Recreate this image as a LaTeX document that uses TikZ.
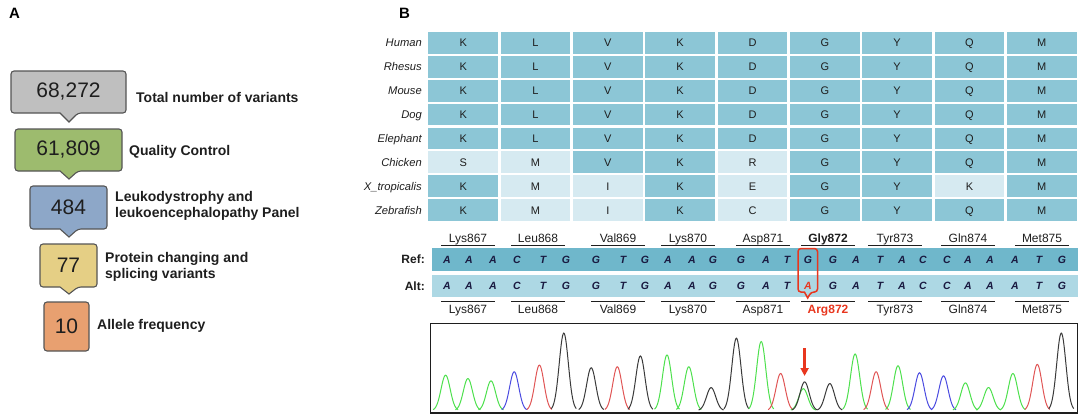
\documentclass[tikz,border=0pt]{standalone}
\usepackage{fontspec}
\setmainfont{Liberation Sans}
\usetikzlibrary{arrows.meta}
\definecolor{cgray}{HTML}{BFBFBF}
\definecolor{cgreen}{HTML}{9DBB6E}
\definecolor{cblue}{HTML}{8DA7C8}
\definecolor{cyellow}{HTML}{E5CF85}
\definecolor{corange}{HTML}{E8A070}
\definecolor{cborder}{HTML}{555555}
\definecolor{dcell}{HTML}{8CC6D6}
\definecolor{lcell}{HTML}{D6EAF1}
\definecolor{refbar}{HTML}{6FB7CB}
\definecolor{altbar}{HTML}{ADD8E4}
\definecolor{mred}{HTML}{E8361E}
\definecolor{pA}{HTML}{4DE04D}
\definecolor{pC}{HTML}{4B4BE0}
\definecolor{pG}{HTML}{3A3A3A}
\definecolor{pT}{HTML}{E05555}
\definecolor{txt}{HTML}{1E1E1E}
\tikzset{
  callout/.style={draw=cborder, line width=1.1pt, rounded corners=3pt},
  bignum/.style={font=\fontsize{21}{24}\selectfont, text=txt, inner sep=0pt},
  steplabel/.style={font=\fontsize{14}{16}\selectfont\bfseries, text=txt, anchor=west, align=left, inner sep=0pt},
  species/.style={font=\fontsize{11.2}{13}\selectfont\itshape, text=txt, anchor=base east, inner sep=0pt},
  aa/.style={font=\fontsize{11}{13}\selectfont, text=txt, inner sep=0pt, anchor=base},
  codon/.style={font=\fontsize{12}{14}\selectfont, text=txt, inner sep=0pt, anchor=base},
  base/.style={font=\fontsize{10.5}{12}\selectfont\bfseries\itshape, text=txt!85!blue, inner sep=0pt},
  panel/.style={font=\fontsize{15}{17}\selectfont\bfseries, text=black, inner sep=0pt},
  codonline/.style={draw=txt, line width=1.4pt},
}
\newcommand\trow[3]{%
  \node[species] (sp#1) at (422,{31+23.875*(#1-0.5)+4}) {#2};
  \foreach \ltr/\sh [count=\c] in {#3} {
    \fill[\sh] ({427+72.33*(\c-1)+1.2},{31+23.875*(#1-1)+1.1}) rectangle ({427+72.33*\c-1.2},{31+23.875*#1-1.1});
    \node[aa] (cell-#1-\c) at ({427+72.33*(\c-0.5)},{31+23.875*(#1-0.5)+4}) {\ltr};
  }
}
\begin{document}
\begin{tikzpicture}[x=1pt,y=-1pt]
\useasboundingbox (0,0) rectangle (1084,418);
% ---------------- Panel A
\node[panel, anchor=north west] (labA) at (9,8) {A};
\draw[callout, fill=cgray] (11,71) -- (126,71) -- (126,113) -- (78,113) [sharp corners]-- (69,122) -- (60,113) [rounded corners=3pt]-- (11,113) -- cycle;
\draw[callout, fill=cgreen] (15,129) -- (122,129) -- (122,171) -- (78,171) [sharp corners]-- (69,179) -- (60,171) [rounded corners=3pt]-- (15,171) -- cycle;
\draw[callout, fill=cblue] (30,186) -- (107,186) -- (107,229) -- (78,229) [sharp corners]-- (69,237) -- (60,229) [rounded corners=3pt]-- (30,229) -- cycle;
\draw[callout, fill=cyellow] (40,244) -- (97,244) -- (97,287) -- (78,287) [sharp corners]-- (69,294) -- (60,287) [rounded corners=3pt]-- (40,287) -- cycle;
\draw[callout, fill=corange] (44,302) -- (89,302) -- (89,351) -- (44,351) -- cycle;
\node[bignum] (n1) at (68.5,92) {68,272};
\node[bignum] (n2) at (68.5,150) {61,809};
\node[bignum] (n3) at (68.5,207.5) {484};
\node[bignum] (n4) at (68.5,265.5) {77};
\node[bignum] (n5) at (66.5,326.5) {10};
\node[steplabel] (l1) at (136,97) {Total number of variants};
\node[steplabel] (l2) at (129,152) {Quality Control};
\node[steplabel] (l3) at (115,206) {Leukodystrophy and\\leukoencephalopathy Panel};
\node[steplabel] (l4) at (105,266.5) {Protein changing and\\splicing variants};
\node[steplabel] (l5) at (97,326) {Allele frequency};
% ---------------- Panel B
\node[panel, anchor=north west] (labB) at (399,8) {B};
\trow{1}{Human}{K/dcell,L/dcell,V/dcell,K/dcell,D/dcell,G/dcell,Y/dcell,Q/dcell,M/dcell}
\trow{2}{Rhesus}{K/dcell,L/dcell,V/dcell,K/dcell,D/dcell,G/dcell,Y/dcell,Q/dcell,M/dcell}
\trow{3}{Mouse}{K/dcell,L/dcell,V/dcell,K/dcell,D/dcell,G/dcell,Y/dcell,Q/dcell,M/dcell}
\trow{4}{Dog}{K/dcell,L/dcell,V/dcell,K/dcell,D/dcell,G/dcell,Y/dcell,Q/dcell,M/dcell}
\trow{5}{Elephant}{K/dcell,L/dcell,V/dcell,K/dcell,D/dcell,G/dcell,Y/dcell,Q/dcell,M/dcell}
\trow{6}{Chicken}{S/lcell,M/lcell,V/dcell,K/dcell,R/lcell,G/dcell,Y/dcell,Q/dcell,M/dcell}
\trow{7}{X\_tropicalis}{K/dcell,M/lcell,I/lcell,K/dcell,E/lcell,G/dcell,Y/dcell,K/lcell,M/dcell}
\trow{8}{Zebrafish}{K/dcell,M/lcell,I/lcell,K/dcell,C/lcell,G/dcell,Y/dcell,Q/dcell,M/dcell}
% codon labels
\foreach \nm/\cx [count=\i] in {Lys867/468,Leu868/538,Val869/618,Lys870/688,Asp871/763,Gly872/828,Tyr873/895,Gln874/968,Met875/1042} {
  \ifnum\i=6
    \node[codon, font=\fontsize{12}{14}\selectfont\bfseries] (top\i) at (\cx,242.3) {\nm};
    \node[codon, font=\fontsize{12}{14}\selectfont\bfseries, text=mred] (bot\i) at (\cx,313.3) {Arg872};
  \else
    \node[codon] (top\i) at (\cx,242.3) {\nm};
    \node[codon] (bot\i) at (\cx,313.3) {\nm};
  \fi
  \draw[codonline] ({\cx-27},245.5) -- ({\cx+27},245.5);
  \draw[codonline] ({\cx-27},301.5) -- ({\cx+27},301.5);
}
\fill[refbar] (432,248) rectangle (1078,271);
\fill[altbar] (432,274.5) rectangle (1078,297);
\node[font=\fontsize{12}{14}\selectfont\bfseries, text=txt, anchor=east, inner sep=0pt] (reflab) at (425,259.5) {Ref:};
\node[font=\fontsize{12}{14}\selectfont\bfseries, text=txt, anchor=east, inner sep=0pt] (altlab) at (425,286) {Alt:};
\foreach \bx/\rb/\ab [count=\j] in {447/A/A,469/A/A,493/A/A,517/C/C,543/T/T,566/G/G,596/G/G,623/T/T,645/G/G,668/A/A,692/A/A,713/G/G,741/G/G,766/A/A,787/T/T,808/G/A,833/G/G,856/A/A,880/T/T,902/A/A,923/C/C,947/C/C,968/A/A,990/A/A,1015/A/A,1039/T/T,1062/G/G} {
  \node[base] (rb\j) at (\bx,259.5) {\rb};
  \ifnum\j=16
    \node[base, text=mred] (ab\j) at (\bx,286) {\ab};
  \else
    \node[base] (ab\j) at (\bx,286) {\ab};
  \fi
}
\draw[mred, line width=1.5pt, rounded corners=3pt] (798,248.5) -- (817.5,248.5) -- (817.5,292) -- (811,292) [sharp corners]-- (807.7,298) -- (804.4,292) [rounded corners=3pt]-- (798,292) -- cycle;
% ---------------- chromatogram
\node[draw=txt, line width=0.9pt, minimum width=647pt, minimum height=89pt, inner sep=0pt, anchor=north west] (chrom) at (430,323) {};
\foreach \cx/\tp/\col in {445.6/375.2/pA,467.9/378.6/pA,491.0/380.9/pA,514.2/371.8/pC,539.4/365.1/pT,563.8/333.1/pG,591.2/367.8/pG,617.3/366.8/pT,640.4/356.0/pG,667.0/355.0/pA,688.8/366.8/pA,711.1/387.6/pG,736.4/338.2/pG,761.2/341.5/pA,780.6/373.5/pT,803.3/388.7/pA,804.6/381.9/pG,829.8/383.6/pG,855.1/354.0/pA,876.1/371.8/pT,898.0/365.8/pA,919.5/372.8/pC,943.5/375.9/pC,965.4/382.9/pA,988.5/387.6/pA,1012.9/373.5/pA,1037.3/364.4/pT,1061.3/333.1/pG} {
  \draw[\col, line width=1pt] plot[domain=-12.5:12.5, samples=41, smooth] ({\cx+\x},{410.5-(410.5-\tp)*exp(-(\x*\x)/42)});
}
\draw[txt, line width=1.4pt] (chrom.south west) -- (chrom.south east);
\coordinate (arrS) at (804.6,348);
\coordinate (arrE) at (804.6,376);
\draw[mred, line width=2.6pt, -{Triangle[length=8pt,width=8pt]}] (arrS) -- (arrE);
\end{tikzpicture}
\end{document}
